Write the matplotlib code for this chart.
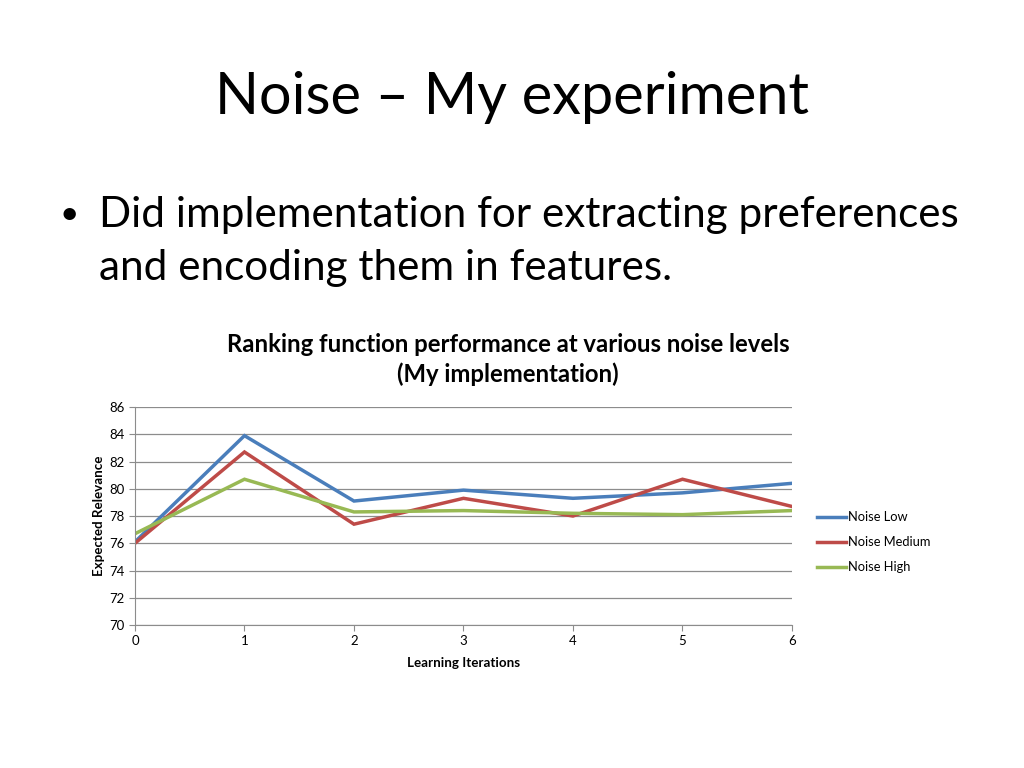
import matplotlib
matplotlib.use("Agg")
import matplotlib.pyplot as plt

# data
iterations = [0, 1, 2, 3, 4, 5, 6]
noise_low = [76.1, 83.9, 79.1, 79.9, 79.3, 79.7, 80.4]
noise_medium = [76.0, 82.7, 77.4, 79.3, 78.0, 80.7, 78.7]
noise_high = [76.7, 80.7, 78.3, 78.4, 78.2, 78.1, 78.4]
series_names = ["Noise Low", "Noise Medium", "Noise High"]
colors = ["#4a7ebb", "#be4b48", "#98b954"]

plt.rcParams['font.family'] = ['Lato', 'DejaVu Sans']

fig = plt.figure(figsize=(10.24, 7.68), dpi=100)

# slide text
fig.text(0.5, 0.873, "Noise – My experiment", ha="center", va="center", fontsize=41.5)
fig.text(0.058, 0.72, "•", ha="left", va="center", fontsize=24)
fig.text(0.097, 0.72, "Did implementation for extracting preferences", ha="left", va="center", fontsize=30.4)
fig.text(0.097, 0.651, "and encoding them in features.", ha="left", va="center", fontsize=30.4)

fig.text(0.496, 0.532, "Ranking function performance at various noise levels\n(My implementation)",
         ha="center", va="center", fontsize=17.2, fontweight="bold", linespacing=1.35)

ax = fig.add_axes([0.1318, 0.1862, 0.6416, 0.2838])
for vals, name, c in zip([noise_low, noise_medium, noise_high], series_names, colors):
    ax.plot(iterations, vals, color=c, lw=2.5, label=name, solid_joinstyle="miter")

ax.set_xlim(0, 6)
ax.set_ylim(70, 86)
ax.set_yticks(range(70, 87, 2))
ax.set_xticks(iterations)
ax.grid(axis="y", color="#8c8c8c", lw=0.9)
ax.set_axisbelow(True)
for s in ["top", "right"]:
    ax.spines[s].set_visible(False)
ax.spines["left"].set_color("#8c8c8c")
ax.spines["bottom"].set_color("#8c8c8c")
ax.tick_params(axis="both", labelsize=9.5, color="#8c8c8c", length=4)
ax.set_xlabel("Learning Iterations", fontsize=9.6, fontweight="bold", labelpad=7)
ax.set_ylabel("Expected Relevance", fontsize=9.6, fontweight="bold", labelpad=3)

ax.legend(loc="center left", bbox_to_anchor=(1.02, 0.38), frameon=False, fontsize=9.3,
          handlelength=2.3, labelspacing=1.0, handletextpad=0.15)

fig.savefig("out.png", dpi=100)
